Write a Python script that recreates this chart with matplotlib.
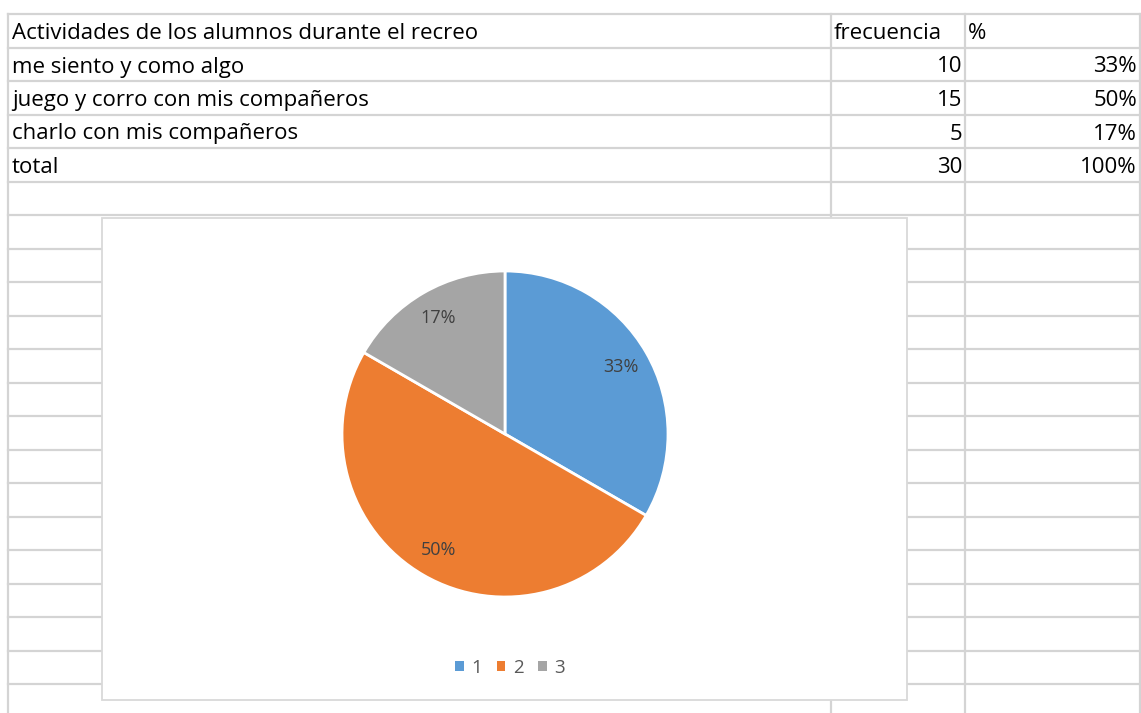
import matplotlib.pyplot as plt
from matplotlib.patches import Rectangle, Patch

# datos de la tabla
titulo = "Actividades de los alumnos durante el recreo"
actividades = ["me siento y como algo", "juego y corro con mis compañeros",
               "charlo con mis compañeros", "total"]
frecuencia = [10, 15, 5, 30]
porcentaje = ["33%", "50%", "17%", "100%"]
leyenda = ["1", "2", "3"]
colores = ["#5B9BD5", "#ED7D31", "#A5A5A5"]

W, H = 1141, 713
fig = plt.figure(figsize=(W / 100, H / 100), dpi=100)
ax = fig.add_axes([0, 0, 1, 1])
ax.set_xlim(0, W)
ax.set_ylim(H, 0)
ax.axis("off")

fuente = "Open Sans"
fs = 16
gris = "#d4d4d4"

# cuadricula de la hoja
y0, dy = 14, 33.5
filas = [y0 + dy * k for k in range(21)]
for y in filas:
    ax.plot([8, W], [y, y], color=gris, lw=1.6, zorder=1)
for x in [8, 831, 965, 1140]:
    ax.plot([x, x], [y0, H], color=gris, lw=1.6, zorder=1)

# texto de la tabla
off = 8.5
ax.text(12, filas[1] - off, titulo, fontsize=fs, family=fuente, va="baseline")
ax.text(834, filas[1] - off, "frecuencia", fontsize=fs, family=fuente, va="baseline")
ax.text(968, filas[1] - off, "%", fontsize=fs, family=fuente, va="baseline")
for i, (act, fr, pc) in enumerate(zip(actividades, frecuencia, porcentaje)):
    yb = filas[i + 2] - off
    ax.text(12, yb, act, fontsize=fs, family=fuente, va="baseline")
    ax.text(962, yb, str(fr), fontsize=fs, family=fuente, va="baseline", ha="right")
    ax.text(1137, yb, pc, fontsize=fs, family=fuente, va="baseline", ha="right")

# marco del grafico
ax.add_patch(Rectangle((102, 218), 805, 482, facecolor="white",
                       edgecolor="#d9d9d9", lw=1.3, zorder=3))

# grafico circular
cx, cy, r = 505, 434, 163
pax = fig.add_axes([(cx - r) / W, 1 - (cy + r) / H, 2 * r / W, 2 * r / H])
pax.set_zorder(5)
pax.pie(frecuencia[:3], colors=colores, startangle=90, counterclock=False,
        autopct="%1.0f%%", pctdistance=0.82, radius=1,
        wedgeprops=dict(edgecolor="white", linewidth=2),
        textprops=dict(fontsize=13, family=fuente, color="#404040"))
pax.set_xlim(-1, 1)
pax.set_ylim(-1, 1)

handles = [Patch(facecolor=c) for c in colores]
leg = fig.legend(handles, leyenda, loc="center", bbox_to_anchor=(510 / W, 1 - 668 / H),
                 ncol=3, frameon=False, handlelength=0.45, handleheight=0.45,
                 handletextpad=0.4, columnspacing=0.8,
                 prop=dict(family=fuente, size=13.5))
leg.set_zorder(6)
for t in leg.get_texts():
    t.set_color("#595959")

fig.savefig("out.png", dpi=100)
